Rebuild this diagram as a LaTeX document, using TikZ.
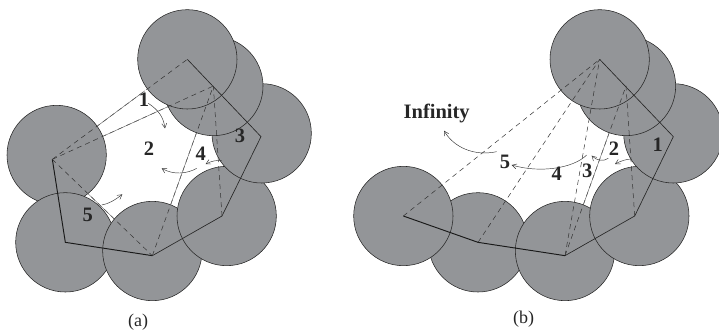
\documentclass[tikz,border=0pt]{standalone}
\usepackage{fontspec}
\setmainfont{Liberation Serif}
\usetikzlibrary{arrows.meta,calc}
\definecolor{discgray}{RGB}{147,149,152}
\tikzset{
  disc/.style={fill=discgray,draw=black!85,line width=0.55pt},
  chainline/.style={draw=black!85,line width=0.65pt},
  chainbold/.style={draw=black!90,line width=0.95pt},
  dashline/.style={draw=black!80,line width=0.5pt,dash pattern=on 5pt off 4pt},
  thinline/.style={draw=black!60,line width=0.45pt},
  swing/.style={draw=black!80,line width=0.45pt,-{Straight Barb[length=4.5pt,width=5pt]}},
  numlabel/.style={font=\fontsize{20.5}{20.5}\selectfont\bfseries,text=black!85,inner sep=0pt},
  captext/.style={font=\fontsize{18}{18}\selectfont,text=black!85,inner sep=0pt},
}
\begin{document}
\begin{tikzpicture}[x=0.33333pt,y=-0.33333pt]
\useasboundingbox (0,0) rectangle (2157,987);
% ---------- panel (a)
\begin{scope}
\foreach \p in {(170,465),(196,727),(457,753),(680,648),(785,400),(640,258),(562,178)}
  \draw[disc] \p circle[radius=149];
\coordinate (a1) at (562,178);
\coordinate (a2) at (783,410);
\coordinate (a3) at (666,648);
\coordinate (a4) at (457,767);
\coordinate (a5) at (196,727);
\coordinate (a6) at (157,478);
\coordinate (aB) at (640,258);
\draw[chainline] (a1) -- (a2) -- (a3) -- (a4);
\draw[chainbold] (a4) -- (a5) -- (a6);
\draw[dashline] (a6) -- (a1);
\draw[dashline] (a6) -- (aB);
\draw[dashline] (a4) -- (aB);
\draw[dashline] (a3) -- (aB);
\draw[dashline] (a6) -- (a4);
\draw[thinline] ($(a6)!.34!(a1)$) -- ($(a6)!.686!(a1)$);
\draw[thinline] ($(a6)!.317!(aB)$) -- ($(a6)!.72!(aB)$);
\draw[thinline] ($(aB)!.279!(a4)$) -- ($(aB)!.70!(a4)$);
\draw[thinline] ($(a6)!.35!(a4)$) -- ($(a6)!.61!(a4)$);
\draw[swing] (445,310) .. controls (475,330) and (490,350) .. (495,385);
\draw[swing] (590,505) .. controls (560,522) and (520,525) .. (485,505);
\draw[swing] (665,482) .. controls (650,480) and (635,483) .. (617,492);
\draw[swing] (305,615) .. controls (325,612) and (345,600) .. (367,583);
\node[numlabel] (la1) at (432,300) {1};
\node[numlabel] (la2) at (447,445) {2};
\node[numlabel] (la3) at (720,407) {3};
\node[numlabel] (la4) at (602,462) {4};
\node[numlabel] (la5) at (263,645) {5};
\node[captext] (capa) at (414,965) {(a)};
\end{scope}
% ---------- panel (b)
\begin{scope}[xshift=340pt]
\foreach \p in {(414,727),(190,648),(675,753),(898,648),(1000,400),(858,258),(779,178)}
  \draw[disc] \p circle[radius=149];
\coordinate (b1) at (779,178);
\coordinate (b2) at (1000,410);
\coordinate (b3) at (884,648);
\coordinate (b4) at (675,767);
\coordinate (b5) at (414,727);
\coordinate (b6) at (190,648);
\coordinate (bB) at (858,258);
\draw[chainline] (b1) -- (b2) -- (b3) -- (b4);
\draw[chainbold] (b4) -- (b5) -- (b6);
\draw[dashline] (b6) -- (b1);
\draw[dashline] (b5) -- (b1);
\draw[dashline] (b4) -- (b1);
\draw[dashline] (b4) -- (bB);
\draw[dashline] (b3) -- (bB);
\draw[thinline] ($(bB)!.279!(b4)$) -- ($(bB)!.70!(b4)$);
\draw[swing] (470,455) .. controls (400,470) and (340,440) .. (312,392);
\draw[swing] (740,465) .. controls (700,505) and (600,520) .. (515,495);
\draw[swing] (805,475) .. controls (790,485) and (770,482) .. (755,467);
\draw[swing] (875,477) .. controls (860,477) and (842,483) .. (825,492);
\node[numlabel] (lbi) at (290,340) {Infinity};
\node[numlabel] (lb1) at (953,435) {1};
\node[numlabel] (lb2) at (822,447) {2};
\node[numlabel] (lb3) at (742,513) {3};
\node[numlabel] (lb4) at (650,522) {4};
\node[numlabel] (lb5) at (495,485) {5};
\node[captext] (capb) at (551,957) {(b)};
\end{scope}
\end{tikzpicture}
\end{document}
